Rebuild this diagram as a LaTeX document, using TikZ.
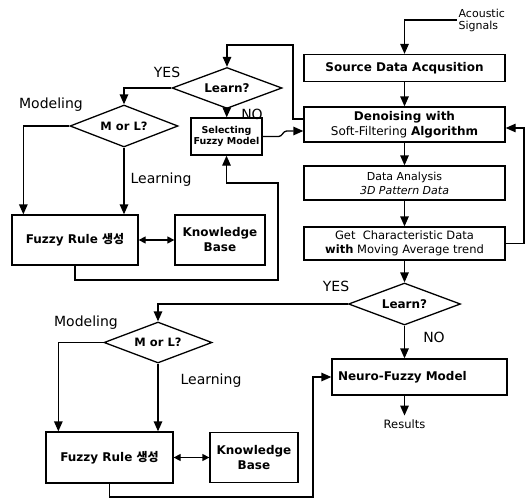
\documentclass[tikz,border=0pt]{standalone}
\usepackage{fontspec}
\setmainfont{DejaVu Sans}
\newfontfamily\krfont{Noto Sans CJK KR}
\usetikzlibrary{shapes.geometric,arrows.meta}
\begin{document}
\begin{tikzpicture}[x=1pt, y=-1pt, line width=1.3pt,
  box/.style={draw, rectangle, inner sep=1pt, align=center},
  dia/.style={draw, diamond, aspect=2.5, inner sep=0pt, font=\bfseries\fontsize{11.5}{13}\selectfont},
  bfont/.style={font=\bfseries\fontsize{12}{15}\selectfont},
  lbl/.style={font=\fontsize{14}{16}\selectfont},
  arr/.style={-{Triangle[length=10pt,width=8.5pt]}},
  dbl/.style={{Triangle[length=7pt,width=7pt]}-{Triangle[length=7pt,width=7pt]}}]
\useasboundingbox (0,0) rectangle (526,500);

% right column
\node[anchor=west, align=left, inner sep=1pt, font=\fontsize{11}{12}\selectfont] (acs) at (457,20) {Acoustic\\Signals};
\node[box, bfont, minimum width=201pt, minimum height=27pt] (src) at (404.5,68) {Source Data Acqusition};
\node[box, minimum width=201pt, minimum height=35pt, font=\fontsize{12}{15}\selectfont] (den) at (404.5,124.5) {\textbf{Denoising with}\\Soft-Filtering \textbf{Algorithm}};
\node[box, minimum width=201pt, minimum height=34pt, font=\fontsize{11}{14}\selectfont] (ana) at (404.5,183) {Data Analysis\\\textit{3D Pattern Data}};
\node[box, minimum width=201pt, minimum height=33pt, font=\fontsize{11.5}{14}\selectfont] (chr) at (404.5,243.5) {Get\ \ Characteristic Data\\\textbf{with} Moving Average trend};
\node[dia, minimum width=112pt, minimum height=42pt, font=\bfseries\fontsize{12}{14}\selectfont] (lrn2) at (404.5,304) {Learn?};
\node[box, bfont, text width=163pt, align=left, inner xsep=6pt, minimum height=36pt] (nfm) at (419.5,377) {Neuro-Fuzzy Model};
\node[font=\fontsize{11.5}{13}\selectfont] (res) at (404.5,424) {Results};

% upper left
\node[dia, minimum width=110pt, minimum height=41pt, font=\bfseries\fontsize{12}{14}\selectfont] (lrn1) at (227,88) {Learn?};
\node[dia, minimum width=108pt, minimum height=42pt] (mol1) at (124,126) {M or L?};
\node[box, minimum width=71pt, minimum height=37pt, font=\bfseries\fontsize{9.5}{11.5}\selectfont] (sel) at (226.5,136.5) {Selecting\\Fuzzy Model};
\node[box, bfont, minimum width=126pt, minimum height=50pt] (fr1) at (75,240) {Fuzzy Rule {\krfont 생성}};
\node[box, bfont, minimum width=90pt, minimum height=50pt] (kb1) at (220,240) {Knowledge\\Base};

% lower left
\node[dia, minimum width=108pt, minimum height=41pt] (mol2) at (158,342.5) {M or L?};
\node[box, bfont, minimum width=127pt, minimum height=51pt] (fr2) at (109.5,457.5) {Fuzzy Rule {\krfont 생성}};
\node[box, bfont, minimum width=88pt, minimum height=50pt] (kb2) at (254,457.5) {Knowledge\\Base};

% labels
\node[lbl] (yes1) at (167,72) {YES};
\node[lbl] (no1) at (252,114) {NO};
\node[lbl] (mod1) at (51,105) {Modeling};
\node[lbl] (lea1) at (161,180) {Learning};
\node[lbl] (yes2) at (336,286) {YES};
\node[lbl] (no2) at (434,337) {NO};
\node[lbl] (mod2) at (86,323) {Modeling};
\node[lbl] (lea2) at (211,381) {Learning};

\coordinate (top1) at (293,45);
\coordinate (loop1) at (278,280);
\coordinate (up1) at (278,183);
\coordinate (fb) at (524,243.5);
\coordinate (loop2) at (313,497);

\draw[arr] (acs.west) -| (src.north);
\draw[arr] (src) -- (den);
\draw[arr] (den) -- (ana);
\draw[arr] (ana) -- (chr);
\draw[arr] (chr) -- (lrn2);
\draw[arr] (lrn2) -- (nfm.north -| lrn2);
\draw[arr] (nfm.south -| res) -- (res);
\draw[arr] (chr.east) -- (fb) |- ([yshift=-3.5pt]den.east);

\draw[arr] ([yshift=5.5pt]den.west) -| (top1) -| (lrn1.north);
\draw[arr] (lrn1.west) -| (mol1.north);
\draw[arr] (lrn1) -- (sel);
\draw[arr] (sel.east) -- ++(16,0) to[out=0,in=180] ++(8,-5.5) -- ([yshift=-6.5pt]den.west);
\draw[arr] (fr1.south) |- (loop1) -- (up1) -| (sel.south);
\draw[arr] (mol1.west) -| ([xshift=12pt]fr1.north west);
\draw[arr] (mol1.south) -- (mol1.south |- fr1.north);
\draw[dbl] (fr1) -- (kb1);

\draw[arr] (lrn2.west) -| (mol2.north);
\draw[arr] (mol2.west) -| ([xshift=13pt]fr2.north west);
\draw[arr] (mol2.south) -- (mol2.south |- fr2.north);
\draw[dbl] (fr2) -- (kb2);
\draw[arr] (fr2.south) |- (loop2) |- (nfm.west);

\end{tikzpicture}
\end{document}
